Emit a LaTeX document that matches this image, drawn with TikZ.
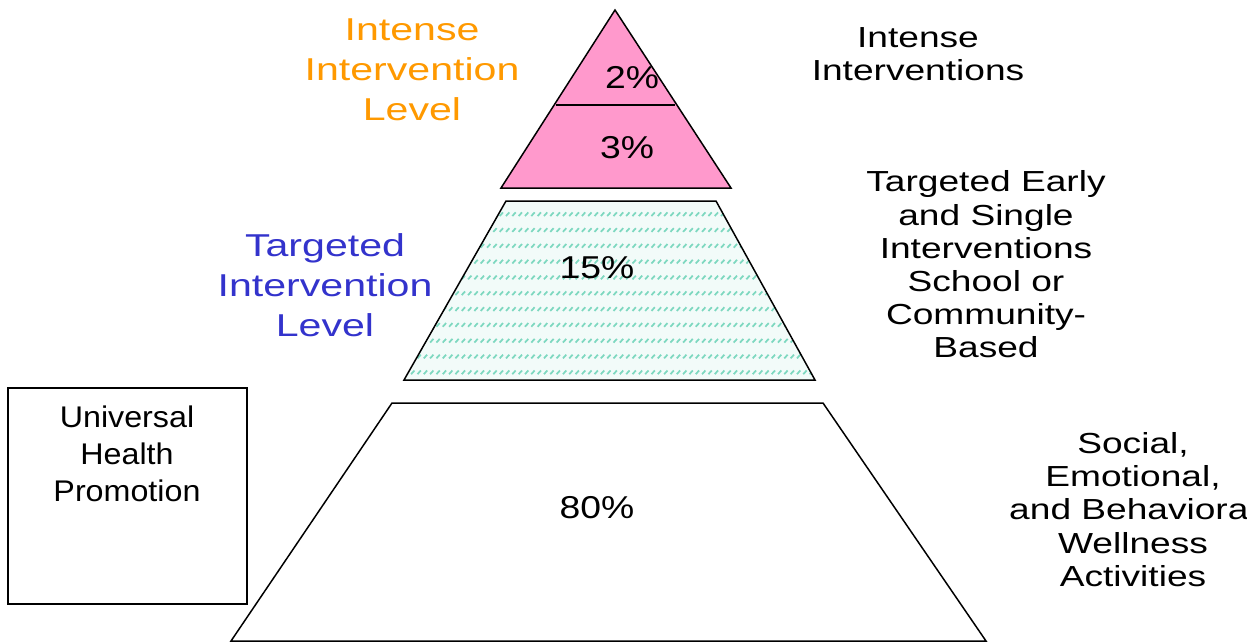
\documentclass[tikz,border=0pt]{standalone}
\usepackage{fontspec}
\setmainfont{Liberation Sans}
\newfontfamily\levelfont[FakeStretch=1.3]{Liberation Sans}
\newfontfamily\sidefont[FakeStretch=1.28]{Liberation Sans}
\newfontfamily\boxfont[FakeStretch=1.08]{Liberation Sans}
\newfontfamily\pctfont[FakeStretch=1.18]{Liberation Sans}
\usetikzlibrary{patterns}

\definecolor{tierpink}{HTML}{FF99CC}
\definecolor{tierorange}{HTML}{FF9900}
\definecolor{tierblue}{HTML}{3333CC}
\definecolor{tiermint}{HTML}{7ED8C0}

% rows of short slanted dashes
\pgfdeclarepatternformonly{dashrows}{\pgfqpoint{-1pt}{-1pt}}{\pgfqpoint{5pt}{10pt}}{\pgfqpoint{3.6pt}{9pt}}{
  \pgfsetlinewidth{1pt}
  \pgfpathmoveto{\pgfqpoint{0pt}{0pt}}
  \pgfpathlineto{\pgfqpoint{1.9pt}{2.1pt}}
  \pgfusepath{stroke}
}

\tikzset{
  tier/.style={draw=black, line width=0.85pt, line join=miter},
  pct/.style={inner sep=0pt, font=\pctfont\fontsize{18}{21}\selectfont},
  side/.style={inner sep=0pt, align=center, font=\sidefont\fontsize{16.5}{18.9}\selectfont},
  level/.style={inner sep=0pt, align=center, font=\levelfont\fontsize{18}{22.7}\selectfont},
}

\begin{document}
\begin{tikzpicture}[x=0.02cm, y=-0.02cm]
  \useasboundingbox (0,0) rectangle (1247,643);

  % the three tiers
  \fill[tierpink] (615,10) -- (731,188) -- (501,188) -- cycle;
  \draw[tier] (615,10) -- (731,188) -- (501,188) -- cycle;
  \draw[tier] (556,105) -- (675,105);
  \fill[tiermint!10] (506,201) -- (716,201) -- (815,380) -- (404,380) -- cycle;
  \fill[pattern=dashrows, pattern color=tiermint] (506,201) -- (716,201) -- (815,380) -- (404,380) -- cycle;
  \draw[tier] (506,201) -- (716,201) -- (815,380) -- (404,380) -- cycle;
  \draw[tier] (392,403) -- (823,403) -- (986,641) -- (231,641) -- cycle;

  \node[pct] (p2) at (632,78) {2\%};
  \node[pct] (p3) at (627,148) {3\%};
  \node[pct] (p15) at (597,268) {15\%};
  \node[pct] (p80) at (597,508) {80\%};

  % level labels
  \node[level, text=tierorange] (intense) at (412,70) {Intense\\Intervention\\Level};
  \node[level, text=tierblue] (targeted) at (325,285) {Targeted\\Intervention\\Level};

  \draw[tier] (8,388) rectangle (247,604);
  \node[side, font=\boxfont\fontsize{17}{21}\selectfont] (universal) at (127,454) {Universal\\Health\\Promotion};

  % descriptions on the right
  \node[side] (d1) at (918,54) {Intense\\Interventions};
  \node[side] (d2) at (986,264.5) {Targeted Early\\and Single\\Interventions\\School or\\Community-\\Based};
  \node[side] (d3) at (1133,509.5) {Social,\\Emotional,\\and Behavioral\\Wellness\\Activities};
\end{tikzpicture}
\end{document}
